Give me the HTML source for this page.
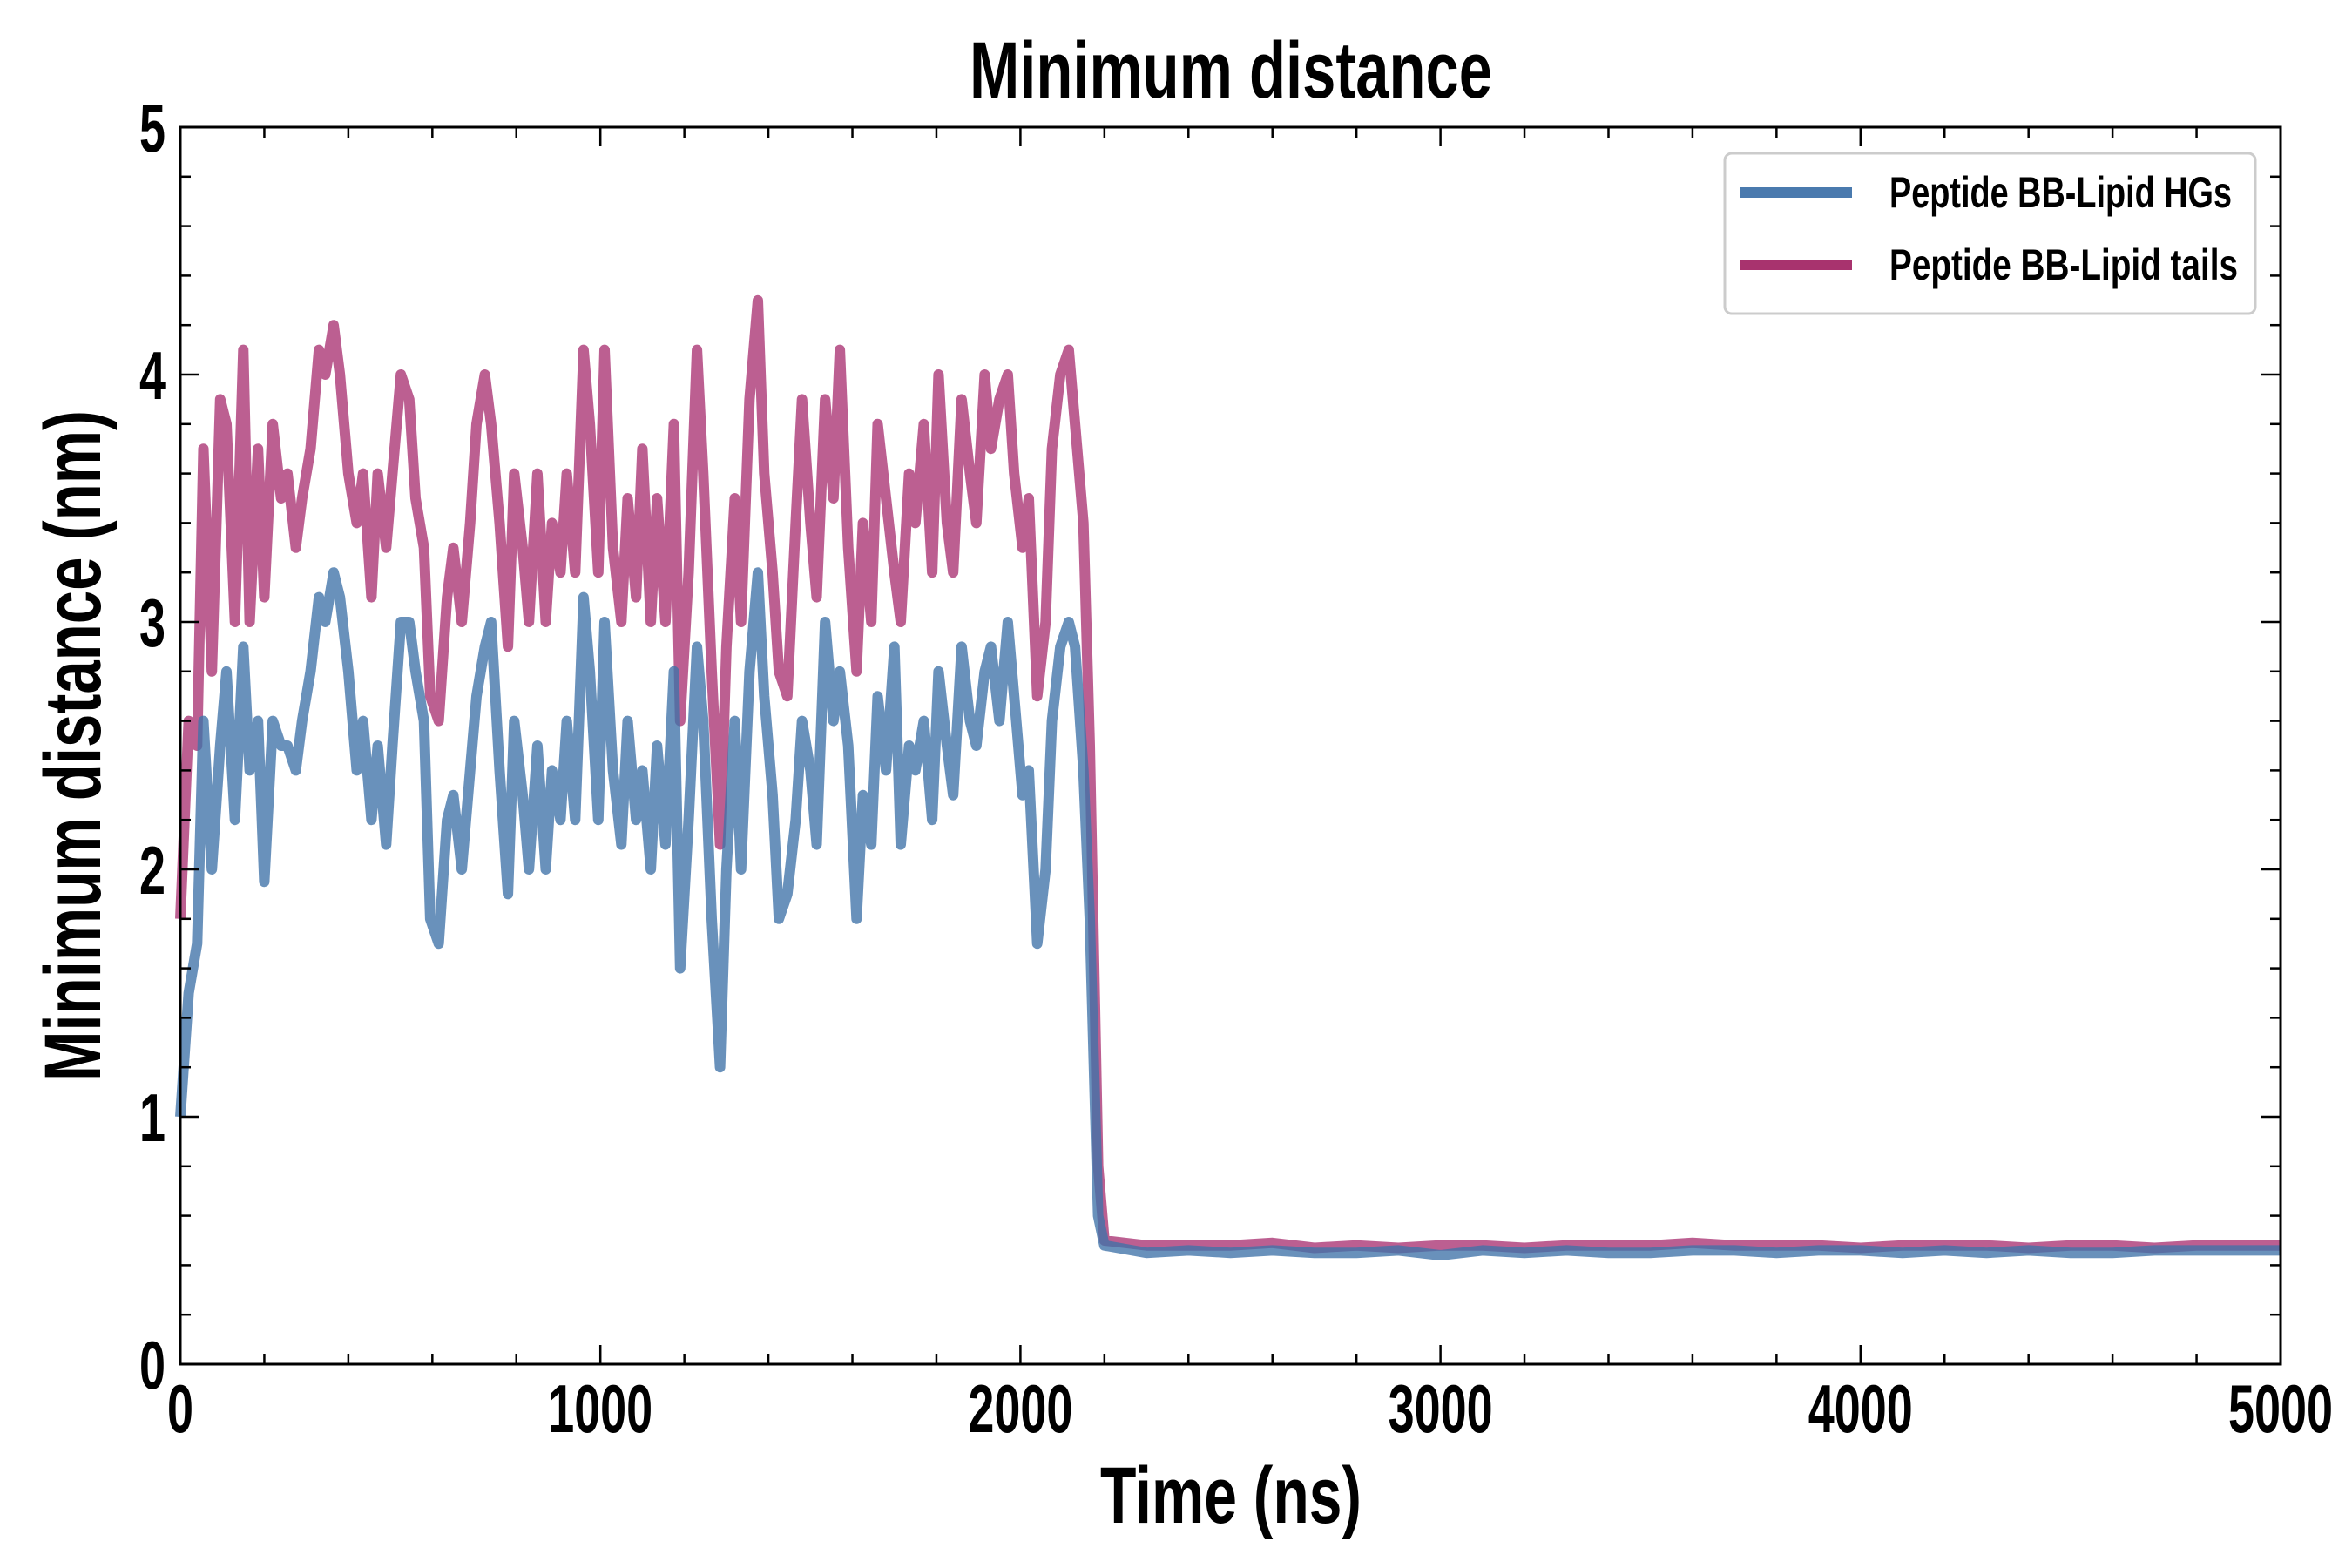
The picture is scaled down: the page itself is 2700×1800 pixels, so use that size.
<!DOCTYPE html>
<html><head><meta charset="utf-8"><style>
html,body{margin:0;padding:0;background:#fff}
svg{display:block}
text{font-family:"Liberation Sans Narrow","Liberation Sans",sans-serif;font-weight:bold;fill:#000}
</style></head><body>
<svg id="chart" width="2700" height="1800" viewBox="0 0 2700 1800" xmlns="http://www.w3.org/2000/svg">
<rect width="2700" height="1800" fill="#fff"/>
<g id="plot"></g>
<text x="1413" y="112" font-size="92" text-anchor="middle" textLength="600" lengthAdjust="spacingAndGlyphs">Minimum distance</text>
<text x="1413" y="1748" font-size="92" text-anchor="middle" textLength="300" lengthAdjust="spacingAndGlyphs">Time (ns)</text>
<text transform="translate(115,856) rotate(-90)" font-size="92" text-anchor="middle" textLength="770" lengthAdjust="spacingAndGlyphs">Minimum distance (nm)</text>
<g>
<rect x="1980" y="176" width="609" height="184" rx="8" fill="#fff" stroke="#ccc" stroke-width="3"/>
<line x1="1997" y1="221" x2="2126" y2="221" stroke="#4a7aae" stroke-width="12"/>
<text x="2169" y="238" font-size="50" textLength="393" lengthAdjust="spacingAndGlyphs">Peptide BB-Lipid HGs</text>
<line x1="1997" y1="304" x2="2126" y2="304" stroke="#a8336e" stroke-width="12"/>
<text x="2169" y="321" font-size="50" textLength="400" lengthAdjust="spacingAndGlyphs">Peptide BB-Lipid tails</text>
</g>
</svg>
<script>
const times=[0,20,40,55,75,95,110,130,150,165,185,200,220,240,255,275,290,310,330,345,365,380,400,420,435,455,470,490,505,525,545,560,580,595,615,635,650,670,690,705,725,740,760,780,795,815,830,850,870,885,905,920,940,960,975,995,1010,1030,1050,1065,1085,1100,1120,1135,1155,1175,1190,1210,1230,1245,1265,1285,1300,1320,1335,1355,1375,1390,1410,1425,1445,1465,1480,1500,1515,1535,1555,1570,1590,1610,1625,1645,1660,1680,1700,1715,1735,1750,1770,1790,1805,1825,1840,1860,1880,1895,1915,1930,1950,1970,1985,2005,2020,2040,2060,2075,2095,2115,2130,2150,2165,2185,2200,2300,2400,2500,2600,2700,2800,2900,3000,3100,3200,3300,3400,3500,3600,3700,3800,3900,4000,4100,4200,4300,4400,4500,4600,4700,4800,4900,5000];
const hgs=[1.0,1.5,1.7,2.6,2.0,2.5,2.8,2.2,2.9,2.4,2.6,1.95,2.6,2.5,2.5,2.4,2.6,2.8,3.1,3.0,3.2,3.1,2.8,2.4,2.6,2.2,2.5,2.1,2.5,3.0,3.0,2.8,2.6,1.8,1.7,2.2,2.3,2.0,2.4,2.7,2.9,3.0,2.4,1.9,2.6,2.3,2.0,2.5,2.0,2.4,2.2,2.6,2.2,3.1,2.8,2.2,3.0,2.4,2.1,2.6,2.2,2.4,2.0,2.5,2.1,2.8,1.6,2.2,2.9,2.6,1.8,1.2,2.0,2.6,2.0,2.8,3.2,2.7,2.3,1.8,1.9,2.2,2.6,2.4,2.1,3.0,2.6,2.8,2.5,1.8,2.3,2.1,2.7,2.4,2.9,2.1,2.5,2.4,2.6,2.2,2.8,2.5,2.3,2.9,2.6,2.5,2.8,2.9,2.6,3.0,2.7,2.3,2.4,1.7,2.0,2.6,2.9,3.0,2.9,2.4,1.8,0.6,0.48,0.45,0.46,0.45,0.46,0.45,0.45,0.46,0.44,0.46,0.45,0.46,0.45,0.45,0.46,0.46,0.45,0.46,0.46,0.45,0.46,0.45,0.46,0.45,0.45,0.46,0.46,0.46,0.46];
const tails=[1.8,2.6,2.5,3.7,2.8,3.9,3.8,3.0,4.1,3.0,3.7,3.1,3.8,3.5,3.6,3.3,3.5,3.7,4.1,4.0,4.2,4.0,3.6,3.4,3.6,3.1,3.6,3.3,3.6,4.0,3.9,3.5,3.3,2.7,2.6,3.1,3.3,3.0,3.4,3.8,4.0,3.8,3.4,2.9,3.6,3.3,3.0,3.6,3.0,3.4,3.2,3.6,3.2,4.1,3.8,3.2,4.1,3.3,3.0,3.5,3.1,3.7,3.0,3.5,3.0,3.8,2.6,3.2,4.1,3.6,2.8,2.1,2.9,3.5,3.0,3.9,4.3,3.6,3.2,2.8,2.7,3.4,3.9,3.4,3.1,3.9,3.5,4.1,3.3,2.8,3.4,3.0,3.8,3.5,3.2,3.0,3.6,3.4,3.8,3.2,4.0,3.4,3.2,3.9,3.6,3.4,4.0,3.7,3.9,4.0,3.6,3.3,3.5,2.7,3.0,3.7,4.0,4.1,3.8,3.4,2.5,0.8,0.5,0.48,0.48,0.48,0.49,0.47,0.48,0.47,0.48,0.48,0.47,0.48,0.48,0.48,0.49,0.48,0.48,0.48,0.47,0.48,0.48,0.48,0.47,0.48,0.48,0.47,0.48,0.48,0.48];
const xTicks=[0,1000,2000,3000,4000,5000];
const yTicks=[0,1,2,3,4,5];
const L=207,R=2618,T=146,B=1566;
const xs=v=>L+(v/5000)*(R-L);
const ys=v=>B-(v/5)*(B-T);
const NS='http://www.w3.org/2000/svg';
const g=document.getElementById('plot');
function mk(tag,attrs){const e=document.createElementNS(NS,tag);for(const k in attrs)e.setAttribute(k,attrs[k]);return e;}
function series(data,color,op,name){
  const n=Math.min(times.length,data.length);
  let d='';
  for(let i=0;i<n;i++)d+=(i?'L':'M')+xs(times[i]).toFixed(1)+','+ys(data[i]).toFixed(1);
  const p=mk('path',{d:d,fill:'none',stroke:color,'stroke-width':12,'stroke-opacity':op,'stroke-linejoin':'round'});
  
  
  g.appendChild(p);
}
series(tails,'#a62a6c',0.75,'series-lipid-tails');
series(hgs,'#3f72a8',0.78,'series-lipid-hgs');
const frame=mk('rect',{x:L,y:T,width:R-L,height:B-T,fill:'none',stroke:'#000','stroke-width':3});


g.appendChild(frame);
for(let v=0;v<=5000;v+=200){
  const major=v%1000===0,len=major?22:12,x=xs(v);
  g.appendChild(mk('line',{x1:x,y1:B,x2:x,y2:B-len,stroke:'#000','stroke-width':2.5}));
  g.appendChild(mk('line',{x1:x,y1:T,x2:x,y2:T+len,stroke:'#000','stroke-width':2.5}));
}
for(let k=0;k<=25;k++){
  const v=k*0.2,major=k%5===0,len=major?22:12,y=ys(v);
  g.appendChild(mk('line',{x1:L,y1:y,x2:L+len,y2:y,stroke:'#000','stroke-width':2.5}));
  g.appendChild(mk('line',{x1:R,y1:y,x2:R-len,y2:y,stroke:'#000','stroke-width':2.5}));
}
xTicks.forEach(v=>{
  const s=String(v);
  const t=mk('text',{x:xs(v),y:1644,'font-size':78,'text-anchor':'middle',textLength:s.length*30,lengthAdjust:'spacingAndGlyphs'});
  t.textContent=s;
  
  
  g.appendChild(t);
});
yTicks.forEach(v=>{
  const t=mk('text',{x:190,y:ys(v)+28,'font-size':78,'text-anchor':'end',textLength:30,lengthAdjust:'spacingAndGlyphs'});
  t.textContent=v;
  
  
  g.appendChild(t);
});
</script>
</body></html>
